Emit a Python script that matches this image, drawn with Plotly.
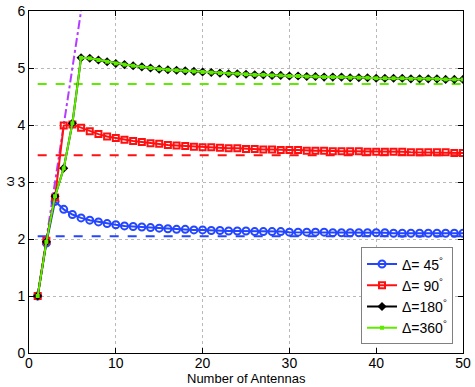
import plotly.graph_objects as go

N = list(range(1, 51))

omega_45 = [1.00, 1.93, 2.66, 2.52, 2.43, 2.37, 2.33, 2.30, 2.27, 2.25,
            2.23, 2.22, 2.21, 2.20, 2.19, 2.18, 2.17, 2.17, 2.16, 2.16,
            2.15, 2.15, 2.14, 2.14, 2.14, 2.13, 2.13, 2.13, 2.13, 2.12,
            2.12, 2.12, 2.12, 2.12, 2.11, 2.11, 2.11, 2.11, 2.11, 2.11,
            2.11, 2.10, 2.10, 2.10, 2.10, 2.10, 2.10, 2.10, 2.10, 2.10]
omega_90 = [1.00, 1.97, 2.73, 3.99, 4.01, 3.95, 3.89, 3.84, 3.80, 3.77,
            3.74, 3.72, 3.70, 3.68, 3.67, 3.65, 3.64, 3.63, 3.62, 3.61,
            3.61, 3.60, 3.59, 3.59, 3.58, 3.58, 3.57, 3.57, 3.56, 3.56,
            3.56, 3.55, 3.55, 3.55, 3.54, 3.54, 3.54, 3.54, 3.53, 3.53,
            3.53, 3.53, 3.53, 3.52, 3.52, 3.52, 3.52, 3.52, 3.51, 3.51]
omega_180 = [1.00, 1.95, 2.75, 3.24, 4.03, 5.18, 5.17, 5.14, 5.11, 5.08,
             5.06, 5.04, 5.02, 5.00, 4.98, 4.97, 4.96, 4.95, 4.94, 4.93,
             4.92, 4.91, 4.90, 4.90, 4.89, 4.88, 4.88, 4.87, 4.87, 4.86,
             4.86, 4.85, 4.85, 4.84, 4.84, 4.84, 4.83, 4.83, 4.83, 4.82,
             4.82, 4.82, 4.82, 4.81, 4.81, 4.81, 4.81, 4.80, 4.80, 4.80]
omega_360 = [1.00, 1.95, 2.75, 3.24, 4.03, 5.18, 5.17, 5.14, 5.11, 5.08,
             5.06, 5.04, 5.02, 5.00, 4.98, 4.97, 4.96, 4.95, 4.94, 4.93,
             4.92, 4.91, 4.90, 4.90, 4.89, 4.88, 4.88, 4.87, 4.87, 4.86,
             4.86, 4.85, 4.85, 4.84, 4.84, 4.84, 4.83, 4.83, 4.83, 4.82,
             4.82, 4.82, 4.82, 4.81, 4.81, 4.81, 4.81, 4.80, 4.80, 4.80]

asym_x = [1, 50]
asym_45 = [2.05, 2.05]
asym_90 = [3.47, 3.47]
asym_360 = [4.72, 4.72]

bound_x = [1, 6]
bound_y = [1, 6]

labels = ["Δ= 45<sup>°</sup>", "Δ= 90<sup>°</sup>", "Δ=180<sup>°</sup>", "Δ=360<sup>°</sup>"]
x_title = "Number of Antennas"
y_title = "ω"

BLUE = "#2446FF"
RED = "#FF1010"
BLACK = "#000000"
GREEN = "#5EEB00"
PURPLE = "#B43CFF"

fig = go.Figure()

# asymptotes
fig.add_trace(go.Scatter(x=asym_x, y=asym_45, mode="lines", showlegend=False,
                         line=dict(color=BLUE, width=2, dash="dash")))
fig.add_trace(go.Scatter(x=asym_x, y=asym_90, mode="lines", showlegend=False,
                         line=dict(color=RED, width=2, dash="dash")))
fig.add_trace(go.Scatter(x=asym_x, y=asym_360, mode="lines", showlegend=False,
                         line=dict(color=GREEN, width=2, dash="dash")))
fig.add_trace(go.Scatter(x=bound_x, y=bound_y, mode="lines", showlegend=False,
                         line=dict(color=PURPLE, width=2, dash="dashdot")))

fig.add_trace(go.Scatter(x=N, y=omega_45, mode="lines+markers", name=labels[0],
                         line=dict(color=BLUE, width=2),
                         marker=dict(symbol="circle-open", size=7, color=BLUE, line=dict(width=2))))
fig.add_trace(go.Scatter(x=N, y=omega_90, mode="lines+markers", name=labels[1],
                         line=dict(color=RED, width=2),
                         marker=dict(symbol="square-open", size=6, color=RED, line=dict(width=2))))
fig.add_trace(go.Scatter(x=N, y=omega_180, mode="lines+markers", name=labels[2],
                         line=dict(color=BLACK, width=2),
                         marker=dict(symbol="diamond", size=7, color=BLACK)))
fig.add_trace(go.Scatter(x=N, y=omega_360, mode="lines+markers", name=labels[3],
                         line=dict(color=GREEN, width=2),
                         marker=dict(symbol="square", size=4, color=GREEN)))

axis_common = dict(
    showline=True, linecolor="black", linewidth=1, mirror="ticks",
    ticks="inside", ticklen=5, tickcolor="black", automargin=False,
    showgrid=True, gridcolor="#B8B8B8", griddash="dot", gridwidth=1,
    zeroline=False, tickfont=dict(family="Liberation Sans, Arial", size=14, color="black"),
)

fig.update_layout(
    width=475, height=387,
    margin=dict(l=29, r=12, t=11, b=34),
    paper_bgcolor="white", plot_bgcolor="white",
    font=dict(family="Liberation Sans, Arial", size=14, color="black"),
    xaxis=dict(range=[0, 50], dtick=10, ticklabelstandoff=-3, **axis_common),
    yaxis=dict(range=[0, 6], dtick=1, **axis_common),
    legend=dict(x=0.977, y=0.025, xanchor="right", yanchor="bottom",
                bordercolor="#808080", borderwidth=1, bgcolor="white",
                font=dict(size=14), itemwidth=30),
    annotations=[
        dict(text=x_title, xref="paper", yref="paper", x=0.5, y=-0.076,
             xanchor="center", yanchor="middle", showarrow=False, font=dict(size=13)),
        dict(text=y_title, xref="paper", yref="paper", x=-0.047, y=0.5,
             xanchor="center", yanchor="middle", textangle=-90, showarrow=False,
             font=dict(size=13)),
    ],
)

fig.write_html("out.html", config={"displayModeBar": False},
               post_script="document.body.style.margin='0';document.body.style.overflow='hidden';")
